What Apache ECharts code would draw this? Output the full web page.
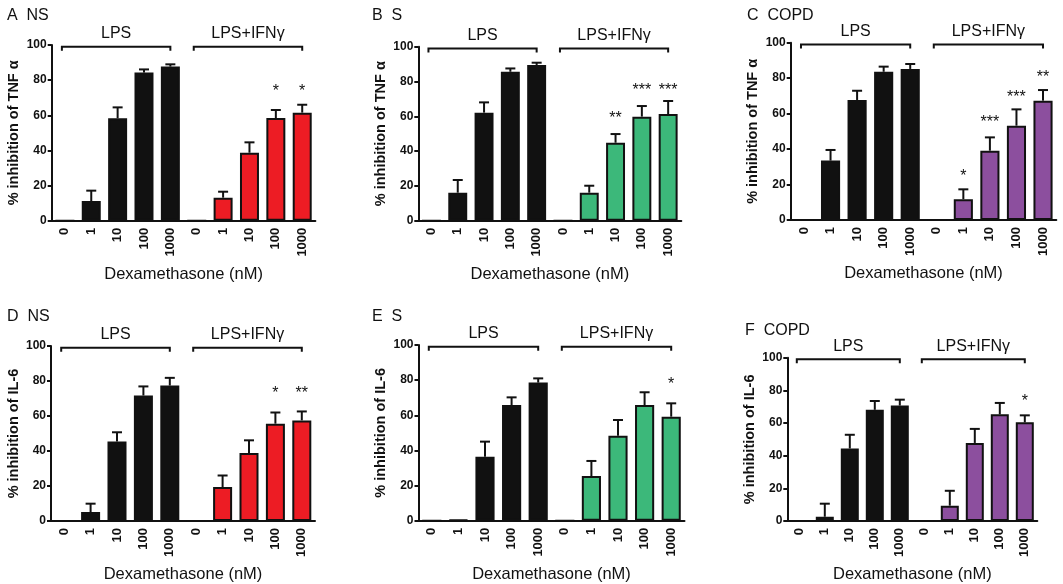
<!DOCTYPE html>
<html>
<head>
<meta charset="utf-8">
<script src="https://cdn.jsdelivr.net/npm/echarts@6/dist/echarts.min.js"></script>
<style>
  html, body { margin: 0; padding: 0; background: #fff; }
  #chart { width: 1063px; height: 584px; }
</style>
</head>
<body>
<div id="chart"></div>
<script>
// x categories: the 5 doses under LPS, then the same 5 under LPS+IFNγ
var doses = ['0', '1', '10', '100', '1000'];
var categories = doses.concat(doses);
var groupLabels = ['LPS', 'LPS+IFNγ'];

// A  NS, TNFα
var nsTnfLps = [0, 11.2, 58.3, 84.3, 87.7];
var nsTnfLpsSem = [0, 5.9, 6.2, 1.8, 1.3];
var nsTnfIfn = [0, 13.1, 38.7, 58.4, 61.5];
var nsTnfIfnSem = [0, 3.4, 5.9, 4.6, 4.5];
var nsTnfStars = ['', '', '', '', '', '', '', '', '*', '*'];
var nsTnfStarY = [0, 0, 0, 0, 0, 0, 0, 0, 75.3, 75.3];

// B  S, TNFα
var sTnfLps = [0, 16.1, 62.1, 85.6, 89.5];
var sTnfLpsSem = [0, 7.3, 5.9, 1.9, 1.3];
var sTnfIfn = [0, 16.1, 44.8, 59.8, 61.3];
var sTnfIfnSem = [0, 4.0, 5.0, 6.1, 7.5];
var sTnfStars = ['', '', '', '', '', '', '', '**', '***', '***'];
var sTnfStarY = [0, 0, 0, 0, 0, 0, 0, 60.2, 76.6, 76.6];

// C  COPD, TNFα
var copdTnfLps = [0, 33.5, 67.7, 83.6, 85.2];
var copdTnfLpsSem = [0, 6.0, 5.2, 2.9, 2.8];
var copdTnfIfn = [0, 11.7, 39.1, 53.2, 67.3];
var copdTnfIfnSem = [0, 5.6, 7.5, 9.2, 6.0];
var copdTnfStars = ['', '', '', '', '', '', '*', '***', '***', '**'];
var copdTnfStarY = [0, 0, 0, 0, 0, 0, 26.3, 56.8, 70.5, 81.8];

// D  NS, IL-6
var nsIl6Lps = [0, 5.1, 45.5, 71.7, 77.4];
var nsIl6LpsSem = [0, 4.8, 5.2, 5.2, 4.4];
var nsIl6Ifn = [0, 19.4, 38.9, 55.6, 57.5];
var nsIl6IfnSem = [0, 6.6, 7.2, 6.4, 5.1];
var nsIl6Stars = ['', '', '', '', '', '', '', '', '*', '**'];
var nsIl6StarY = [0, 0, 0, 0, 0, 0, 0, 0, 74.4, 74.4];

// E  S, IL-6
var sIl6Lps = [0, 0.5, 36.4, 65.8, 78.6];
var sIl6LpsSem = [0, 0, 8.6, 4.4, 2.4];
var sIl6Ifn = [0, 25.4, 48.4, 65.8, 59.2];
var sIl6IfnSem = [0, 8.6, 8.9, 7.3, 7.6];
var sIl6Stars = ['', '', '', '', '', '', '', '', '', '*'];
var sIl6StarY = [0, 0, 0, 0, 0, 0, 0, 0, 0, 79.1];

// F  COPD, IL-6
var copdIl6Lps = [0, 2.6, 44.4, 68.1, 70.7];
var copdIl6LpsSem = [0, 8.0, 8.4, 5.4, 3.6];
var copdIl6Ifn = [0, 9.4, 47.8, 65.3, 60.4];
var copdIl6IfnSem = [0, 9.1, 8.6, 7.0, 4.3];
var copdIl6Stars = ['', '', '', '', '', '', '', '', '', '*'];
var copdIl6StarY = [0, 0, 0, 0, 0, 0, 0, 0, 0, 75.1];

var FONT = "'Liberation Sans', Arial, sans-serif";
var INK = '#111';

// layout of the six panels: [left, top, right, bottom] of each plot box
var panels = [
  { title: 'A  NS',   yName: '% inhibition of TNF α', color: '#ed1c24', box: [51.7, 45, 315.4, 220.7],   tx: 7,   ty: 8,
    lps: nsTnfLps, lpsSem: nsTnfLpsSem, ifn: nsTnfIfn, ifnSem: nsTnfIfnSem, stars: nsTnfStars, starY: nsTnfStarY },
  { title: 'B  S',    yName: '% inhibition of TNF α', color: '#3cb87a', box: [418.3, 46.7, 681.3, 220.7], tx: 372, ty: 8,
    lps: sTnfLps, lpsSem: sTnfLpsSem, ifn: sTnfIfn, ifnSem: sTnfIfnSem, stars: sTnfStars, starY: sTnfStarY },
  { title: 'C  COPD', yName: '% inhibition of TNF α', color: '#8c4f9e', box: [790.7, 42.7, 1056.3, 220],  tx: 747, ty: 8,
    lps: copdTnfLps, lpsSem: copdTnfLpsSem, ifn: copdTnfIfn, ifnSem: copdTnfIfnSem, stars: copdTnfStars, starY: copdTnfStarY },
  { title: 'D  NS',   yName: '% inhibition of IL-6',  color: '#ed1c24', box: [51, 346, 315, 521.7],       tx: 7,   ty: 309,
    lps: nsIl6Lps, lpsSem: nsIl6LpsSem, ifn: nsIl6Ifn, ifnSem: nsIl6IfnSem, stars: nsIl6Stars, starY: nsIl6StarY },
  { title: 'E  S',    yName: '% inhibition of IL-6',  color: '#3cb87a', box: [418.5, 345, 684.5, 520.7],  tx: 372, ty: 309,
    lps: sIl6Lps, lpsSem: sIl6LpsSem, ifn: sIl6Ifn, ifnSem: sIl6IfnSem, stars: sIl6Stars, starY: sIl6StarY },
  { title: 'F  COPD', yName: '% inhibition of IL-6',  color: '#8c4f9e', box: [787.3, 357.7, 1037.3, 525], tx: 745, ty: 323,
    lps: copdIl6Lps, lpsSem: copdIl6LpsSem, ifn: copdIl6Ifn, ifnSem: copdIl6IfnSem, stars: copdIl6Stars, starY: copdIl6StarY }
];

var option = { animation: false, title: [], grid: [], xAxis: [], yAxis: [], series: [] };

panels.forEach(function (p, k) {
  var means = p.lps.concat(p.ifn);
  var sems = p.lpsSem.concat(p.ifnSem);

  option.title.push({
    text: p.title, left: p.tx, top: p.ty, padding: 0,
    textStyle: { fontFamily: FONT, fontSize: 16, fontWeight: 'normal', color: INK }
  });
  option.grid.push({
    left: p.box[0], top: p.box[1],
    width: p.box[2] - p.box[0], height: p.box[3] - p.box[1]
  });
  option.xAxis.push({
    type: 'category', gridIndex: k, data: categories,
    name: 'Dexamethasone (nM)', nameLocation: 'middle', nameGap: 45,
    nameTextStyle: { fontFamily: FONT, fontSize: 16.5, color: INK },
    axisLine: { lineStyle: { color: INK, width: 2 } },
    axisTick: { alignWithLabel: true, length: 4, lineStyle: { color: INK, width: 2 } },
    axisLabel: { rotate: 90, interval: 0, margin: 7, fontFamily: FONT, fontSize: 13, fontWeight: 'bold', color: INK }
  });
  option.yAxis.push({
    type: 'value', gridIndex: k, min: 0, max: 100, interval: 20,
    name: p.yName, nameLocation: 'middle', nameGap: 30,
    nameTextStyle: { fontFamily: FONT, fontSize: 14.5, fontWeight: 'bold', color: INK },
    axisLine: { show: true, lineStyle: { color: INK, width: 2 } },
    axisTick: { show: true, length: 4, lineStyle: { color: INK, width: 2 } },
    axisLabel: { margin: 5, fontFamily: FONT, fontSize: 12, fontWeight: 'bold', color: INK },
    splitLine: { show: false }
  });

  // bars
  option.series.push({
    type: 'bar', xAxisIndex: k, yAxisIndex: k, barWidth: '72%', silent: true,
    itemStyle: { borderColor: INK, borderWidth: 2 },
    data: means.map(function (v, i) {
      return { value: v, itemStyle: { color: i < 5 ? INK : p.color } };
    })
  });

  // upward error bars (mean + SEM)
  option.series.push({
    type: 'custom', xAxisIndex: k, yAxisIndex: k, silent: true, z: 3,
    data: means.map(function (v, i) { return [i, v, v + sems[i]]; }),
    renderItem: function (params, api) {
      if (api.value(2) - api.value(1) <= 0) return;
      var b = api.coord([api.value(0), api.value(1)]);
      var t = api.coord([api.value(0), api.value(2)]);
      return {
        type: 'group', children: [
          { type: 'line', shape: { x1: b[0], y1: b[1], x2: t[0], y2: t[1] }, style: { stroke: INK, lineWidth: 2 } },
          { type: 'line', shape: { x1: t[0] - 5, y1: t[1], x2: t[0] + 5, y2: t[1] }, style: { stroke: INK, lineWidth: 2 } }
        ]
      };
    }
  });

  // significance stars
  option.series.push({
    type: 'custom', xAxisIndex: k, yAxisIndex: k, silent: true, z: 4,
    data: p.starY.map(function (y, i) { return [i, y]; }),
    renderItem: function (params, api) {
      var s = p.stars[params.dataIndex];
      if (!s) return;
      var c = api.coord([api.value(0), api.value(1)]);
      return {
        type: 'text', x: c[0], y: c[1] + 3,
        style: { text: s, fontFamily: FONT, fontSize: 16, fill: INK, align: 'center', verticalAlign: 'middle' }
      };
    }
  });

  // group brackets: LPS over 0..4, LPS+IFNγ over 5..9
  option.series.push({
    type: 'custom', xAxisIndex: k, yAxisIndex: k, silent: true, z: 4,
    data: [[0, 4, 99], [5, 9, 99]],
    renderItem: function (params, api) {
      var a = api.coord([api.value(0), api.value(2)]);
      var b = api.coord([api.value(1), api.value(2)]);
      var x0 = a[0] - 3, x1 = b[0], y = a[1];
      return {
        type: 'group', children: [
          { type: 'polyline', shape: { points: [[x0, y + 4], [x0, y], [x1, y], [x1, y + 4]] },
            style: { stroke: INK, lineWidth: 2, fill: null } },
          { type: 'text', x: (x0 + x1) / 2, y: y - 13,
            style: { text: groupLabels[params.dataIndex], fontFamily: FONT, fontSize: 16, fill: INK,
                     align: 'center', verticalAlign: 'middle' } }
        ]
      };
    }
  });
});

var chart = echarts.init(document.getElementById('chart'));
chart.setOption(option);
</script>
</body>
</html>
